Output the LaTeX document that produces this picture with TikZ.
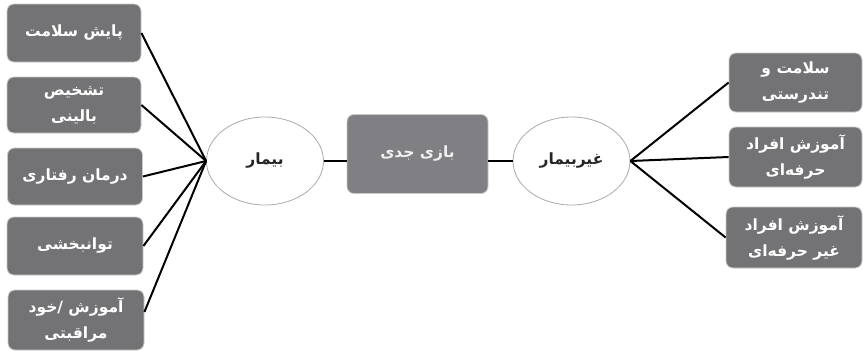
\documentclass[tikz,border=0pt]{standalone}
\usepackage{fontspec}
\TeXXeTstate=1
\newfontfamily\arabicfont[Script=Arabic]{DejaVu Sans}
\usetikzlibrary{shapes.geometric}
\definecolor{boxgray}{RGB}{115,115,118}
\definecolor{midgray}{RGB}{128,128,132}
\definecolor{rimgray}{RGB}{200,200,200}
\definecolor{ellgray}{RGB}{170,170,170}
\begin{document}
\begin{tikzpicture}[x=1pt,y=-1pt,
  gbox/.style={draw=rimgray,line width=0.8pt,fill=boxgray,rounded corners=7pt,
    text=white,align=center,font=\fontsize{15.5}{26}\arabicfont\bfseries,inner sep=0pt},
  cbox/.style={gbox,fill=midgray,text=white!88!gray},
  ell/.style={ellipse,draw=ellgray,line width=0.8pt,fill=white,inner sep=0pt,
    font=\fontsize{15.5}{18}\arabicfont\bfseries,text=black!85},
  link/.style={draw=black,line width=2pt}]
\useasboundingbox (0,0) rectangle (863,351);
% left boxes
\node[gbox,minimum width=134pt,minimum height=58pt] (l1) at (74,33) {\beginR پایش سلامت\endR};
\node[gbox,minimum width=134pt,minimum height=56pt] (l2) at (74,105) {\beginR تشخیص\endR\\\beginR بالینی\endR};
\node[gbox,minimum width=135pt,minimum height=57pt] (l3) at (75,176.5) {\beginR درمان رفتاری\endR};
\node[gbox,minimum width=136pt,minimum height=58pt] (l4) at (75,246) {\beginR توانبخشی\endR};
\node[gbox,minimum width=136pt,minimum height=60pt] (l5) at (76,320) {\beginR آموزش /خود\endR\\\beginR مراقبتی\endR};
% center
\node[ell,minimum width=117pt,minimum height=88pt] (bimar) at (265,161) {\beginR بیمار\endR};
\node[cbox,minimum width=141pt,minimum height=79pt] (bazi) at (417.5,154) {\beginR بازی جدی\endR};
\node[ell,minimum width=117pt,minimum height=88pt] (gheyr) at (571.5,161) {\beginR غیربیمار\endR};
% right boxes
\node[gbox,minimum width=133pt,minimum height=59pt] (r1) at (795.5,82.5) {\beginR سلامت و\endR\\\beginR تندرستی\endR};
\node[gbox,minimum width=133pt,minimum height=60pt] (r2) at (795.5,157) {\beginR آموزش افراد\endR\\\beginR حرفه‌ای\endR};
\node[gbox,minimum width=136pt,minimum height=61pt] (r3) at (794,237.5) {\beginR آموزش افراد\endR\\\beginR غیر حرفه‌ای\endR};
% connectors
\draw[link] (l1.east) -- (bimar.west);
\draw[link] (l2.east) -- (bimar.west);
\draw[link] (l3.east) -- (bimar.west);
\draw[link] (l4.east) -- (bimar.west);
\draw[link] ([yshift=8pt]l5.east) -- (bimar.west);
\draw[link] (bimar.east) -- (bimar.east -| bazi.west);
\draw[link] (gheyr.west -| bazi.east) -- (gheyr.west);
\draw[link] (gheyr.east) -- (r1.west);
\draw[link] (gheyr.east) -- (r2.west);
\draw[link] (gheyr.east) -- (r3.west);
\end{tikzpicture}
\end{document}
